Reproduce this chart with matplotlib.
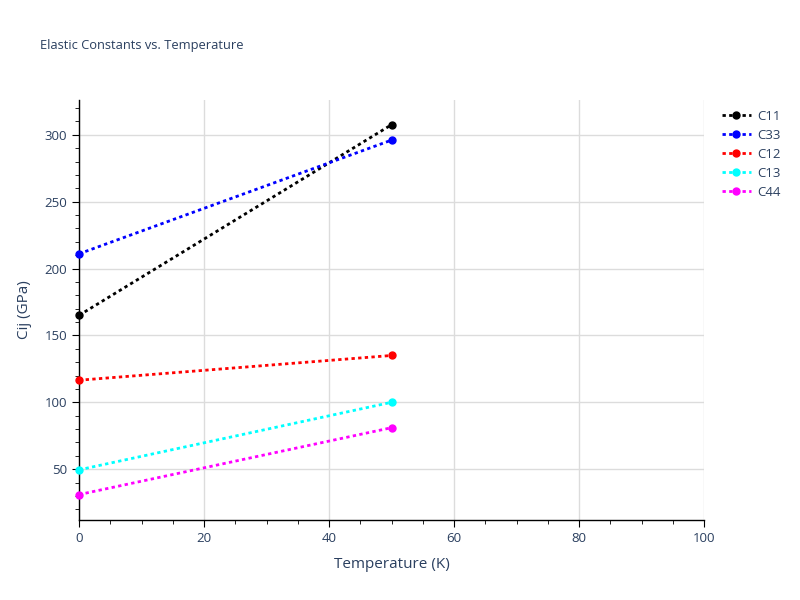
import matplotlib
matplotlib.use("Agg")
import matplotlib.pyplot as plt
from matplotlib.ticker import MultipleLocator

plt.rcParams["font.family"] = ["Open Sans", "DejaVu Sans"]

temperature = [0, 50]
series_names = ["C11", "C33", "C12", "C13", "C44"]
c11 = [165, 307.5]
c33 = [211, 296]
c12 = [116.5, 135]
c13 = [49.5, 100]
c44 = [31, 81]
colors = ["black", "blue", "red", "cyan", "magenta"]

txt = "#2a3f5f"
fig = plt.figure(figsize=(8, 6), dpi=100)
ax = fig.add_axes([79/800, 1-520/600, (704-79)/800, 420/600])

for name, vals, col in zip(series_names, [c11, c33, c12, c13, c44], colors):
    ax.plot(temperature, vals, linestyle=(0, (1.2, 1.2)), linewidth=2, color=col,
            marker="o", markersize=5, label=name, clip_on=False, zorder=3)

ax.set_xlim(0, 100)
ax.set_ylim(12, 326)
ax.xaxis.set_major_locator(MultipleLocator(20))
ax.xaxis.set_minor_locator(MultipleLocator(5))
ax.yaxis.set_major_locator(MultipleLocator(50))
ax.yaxis.set_minor_locator(MultipleLocator(10))
ax.grid(True, which="major", color="#dcdcdc", linewidth=1)
ax.set_axisbelow(True)
for s in ["top", "right"]:
    ax.spines[s].set_visible(False)
for s in ["left", "bottom"]:
    ax.spines[s].set_color("black")
    ax.spines[s].set_linewidth(1)
ax.tick_params(which="major", direction="out", length=5, color="black", labelcolor=txt, labelsize=9.5)
ax.tick_params(which="minor", direction="out", length=3, color="black")
ax.set_xlabel("Temperature (K)", color=txt, fontsize=11, labelpad=9)
ax.set_ylabel("Cij (GPa)", color=txt, fontsize=11, labelpad=9)
fig.text(40/800, 1-45/600, "Elastic Constants vs. Temperature", color=txt, fontsize=9.3, va="center")

leg = ax.legend(loc="upper left", bbox_to_anchor=(710/800, 1-98/600), bbox_transform=fig.transFigure,
                frameon=False, fontsize=9.5, labelspacing=0.45, handlelength=2.2, handletextpad=0.5)
for t in leg.get_texts():
    t.set_color(txt)

fig.savefig("out.png", dpi=100)
